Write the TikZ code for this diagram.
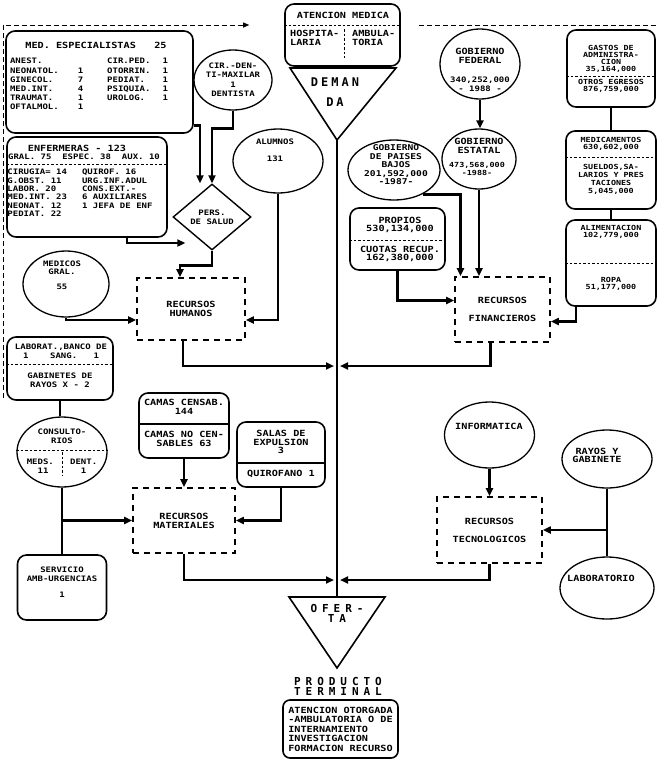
\documentclass[tikz,border=0pt]{standalone}
\usepackage{fontspec}
\newfontfamily\dotfont{DejaVu Sans Mono}[FakeStretch=1.2]
\newfontfamily\bigfont{DejaVu Sans Mono}
\usetikzlibrary{arrows.meta,shapes.geometric}

\tikzset{
  rbox/.style={draw, line width=1.6pt, rounded corners=9pt, inner sep=0pt},
  ebox/.style={draw, ellipse, line width=1.3pt, inner sep=0pt},
  dbox/.style={draw, line width=1.8pt, dash pattern=on 6pt off 5pt, inner sep=0pt,
    align=center, font=\dotfont\bfseries\fontsize{8.5}{8.8}\selectfont},
  dmnd/.style={draw, diamond, line width=1.4pt, inner sep=0pt},
  lbl/.style={font=\dotfont\bfseries\fontsize{8.5}{8.8}\selectfont, align=center, inner sep=0pt},
  lblsm/.style={font=\dotfont\bfseries\fontsize{7.5}{8.6}\selectfont, align=center, inner sep=0pt},
  lbltn/.style={font=\dotfont\bfseries\fontsize{7}{7.2}\selectfont, align=center, inner sep=0pt},
  tab/.style={inner sep=0pt},
  head/.style={font=\bigfont\bfseries\fontsize{12}{12}\selectfont\addfontfeatures{LetterSpace=25},
    align=center, inner sep=0pt},
  headsm/.style={font=\bigfont\bfseries\fontsize{11}{10}\selectfont\addfontfeatures{LetterSpace=45},
    align=center, inner sep=0pt},
  flow/.style={line width=2.8pt, -{Triangle[length=8pt,width=7pt]}},
  link/.style={line width=2.8pt},
  fback/.style={line width=0.9pt, dash pattern=on 5pt off 3pt},
  divider/.style={line width=1pt, dash pattern=on 2.5pt off 2pt},
  solidrule/.style={line width=1.2pt},
}

\begin{document}
\begin{tikzpicture}[x=1pt, y=-1pt]
  \useasboundingbox (0,0) rectangle (658,764);

  % demanda
  \path (342.5,35) node[rbox, minimum width=115pt, minimum height=62pt] (aten) {};
  \path (343,15)  node[lbl] (aten-a) {ATENCION MEDICA};
  \path (290,38)  node[lbl, anchor=west, align=left] (aten-b) {HOSPITA-\\LARIA};
  \path (352,38)  node[lbl, anchor=west, align=left] (aten-c) {AMBULA-\\TORIA};
  \draw[divider] (aten.west |- 0,25) -- (aten.east |- 0,25);
  \draw[divider] (344,29) -- (344,58);

  \coordinate (dem) at (337,140);
  \draw[line width=1.6pt] (290,68) -- (396,68) -- (dem) -- cycle;
  \path (335,92) node[head] (dem-a) {DEMAN\\[8pt]DA};

  \coordinate (fb) at (3,398);
  \draw[fback, -{Triangle[length=6pt,width=5pt]}] (fb) |- ([xshift=-35pt,yshift=10pt]aten.west);
  \draw[fback] ([xshift=18pt,yshift=10pt]aten.east) -- ++(237,0);

  % recursos humanos
  \path (99.5,82) node[rbox, minimum width=187pt, minimum height=102pt] (spec) {};
  \path (96,45) node[lbl] (spec-a) {MED. ESPECIALISTAS~~~25};
  \path (89,85) node[tab, font=\dotfont\bfseries\fontsize{7.5}{9.2}\selectfont] (spec-b) {%
    \begin{tabular}{@{}l@{\hspace{19pt}}r@{\hspace{24pt}}l@{\hspace{12pt}}r@{}}
      ANEST.    &   & CIR.PED. & 1\\
      NEONATOL. & 1 & OTORRIN. & 1\\
      GINECOL.  & 7 & PEDIAT.  & 1\\
      MED.INT.  & 4 & PSIQUIA. & 1\\
      TRAUMAT.  & 1 & UROLOG.  & 1\\
      OFTALMOL. & 1 &          &
    \end{tabular}};

  \path (87,187) node[rbox, minimum width=160pt, minimum height=100pt] (enf) {};
  \path (77,148) node[lbl] (enf-a) {ENFERMERAS - 123};
  \path (84,157) node[lblsm] (enf-b) {GRAL.~75~~ESPEC.~38~~AUX.~10};
  \draw[divider] (enf.west |- 0,164) -- (enf.east |- 0,164);
  \path (80,194) node[tab, font=\dotfont\bfseries\fontsize{7.5}{8.4}\selectfont] (enf-c) {%
    \begin{tabular}{@{}l@{\hspace{15pt}}l@{}}
      CIRUGIA=~14 & QUIROF.~16\\
      G.OBST.~11  & URG.INF.ADUL\\
      LABOR.~20   & CONS.EXT.-\\
      MED.INT.~23 & 6 AUXILIARES\\
      NEONAT.~12  & 1 JEFA DE ENF\\
      PEDIAT.~22  &
    \end{tabular}};

  \path (233,80) node[ebox, minimum width=78pt, minimum height=60pt, lblsm,
    font=\dotfont\bfseries\fontsize{7.5}{9.5}\selectfont] (dent) {CIR.-DEN-\\TI-MAXILAR\\1\\DENTISTA};
  \path (212,217) node[dmnd, minimum width=78pt, minimum height=66pt, lblsm] (pers) {PERS.\\DE SALUD};

  \path (66,284) node[ebox, minimum width=86pt, minimum height=66pt] (medg) {};
  \path (62,275) node[lblsm] (medg-a) {MEDICOS\\GRAL.\\[6pt]55};
  \path (278,161) node[ebox, minimum width=90pt, minimum height=64pt] (alum) {};
  \path (275,150) node[lblsm] (alum-a) {ALUMNOS\\[8pt]131};

  \path (191,309) node[dbox, minimum width=108pt, minimum height=62pt] (rh) {RECURSOS\\HUMANOS};

  \draw[flow] ([yshift=8pt]spec.south east) -| ([xshift=-12pt]pers.north);
  \draw[flow] (dent.south) -- ++(0,18) -| (pers.north);
  \draw[flow] ([xshift=40pt]enf.south) |- ([xshift=13pt,yshift=-26pt]pers.west);
  \draw[flow] (pers.south) -- ++(0,15) -| ([xshift=-11pt]rh.north);
  \draw[flow] (medg.south) |- ([yshift=-11pt]rh.west);
  \draw[flow] (alum.south) |- ([yshift=-11pt]rh.east);

  % recursos financieros
  \path (480,64) node[ebox, minimum width=80pt, minimum height=70pt] (gfed) {};
  \path (480,55.5) node[lbl] (gfed-a) {GOBIERNO\\FEDERAL};
  \path (480,84.5) node[lblsm] (gfed-b) {340,252,000\\- 1988 -};
  \path (479,159) node[ebox, minimum width=74pt, minimum height=60pt] (gest) {};
  \path (479,146) node[lbl] (gest-a) {GOBIERNO\\ESTATAL};
  \path (477,169) node[lbltn] (gest-b) {473,568,000\\-1988-};
  \path (394,170) node[ebox, minimum width=92pt, minimum height=60pt] (pb) {};
  \path (396,165) node[lbl, font=\dotfont\bfseries\fontsize{8}{8.5}\selectfont] (pb-a)
    {GOBIERNO\\DE PAISES\\BAJOS\\201,592,000\\-1987-};

  \path (397.5,239) node[rbox, minimum width=95pt, minimum height=62pt] (prop) {};
  \path (400,225) node[lbl] (prop-a) {PROPIOS\\530,134,000};
  \draw[divider] (prop.west |- 0,240) -- (prop.east |- 0,240);
  \path (400,254) node[lbl] (prop-b) {CUOTAS RECUP.\\162,380,000};

  \path (611,68.5) node[rbox, minimum width=88pt, minimum height=77pt] (gadm) {};
  \path (611,59) node[lbltn] (gadm-a) {GASTOS DE\\ADMINISTRA-\\CION\\35,164,000};
  \draw[divider] (gadm.west |- 0,76) -- (gadm.east |- 0,76);
  \path (611,86) node[lbltn] (gadm-b) {OTROS EGRESOS\\876,759,000};

  \path (611,170) node[rbox, minimum width=90pt, minimum height=78pt] (medi) {};
  \path (611,143.5) node[lbltn] (medi-a) {MEDICAMENTOS\\630,602,000};
  \draw[divider] (medi.west |- 0,157) -- (medi.east |- 0,157);
  \path (611,179) node[lbltn, font=\dotfont\bfseries\fontsize{7}{8}\selectfont] (medi-b)
    {SUELDOS,SA-\\LARIOS Y PRES\\TACIONES\\5,045,000};

  \path (611,263) node[rbox, minimum width=90pt, minimum height=86pt] (alim) {};
  \path (611,232) node[lbltn] (alim-a) {ALIMENTACION\\102,779,000};
  \draw[divider] (alim.west |- 0,263) -- (alim.east |- 0,263);
  \path (611,284) node[lbltn] (alim-b) {ROPA\\51,177,000};

  \path (502.5,309.5) node[dbox, minimum width=95pt, minimum height=65pt] (fin) {RECURSOS\\[9pt]FINANCIEROS};

  \draw[flow] (gfed) -- (gfed.south |- gest.north);
  \draw[flow] (gest.south) -- (gest.south |- fin.north);
  \draw[flow] (pb.-40) -| ([xshift=-42pt]fin.north);
  \draw[flow] (prop.south) |- ([yshift=9pt]fin.west);
  \draw[link] (gadm.south) -- (medi.north);
  \draw[link] (medi.south) -- (alim.north);
  \draw[flow] ([xshift=-35pt]alim.south) |- ([yshift=-12pt]fin.east);

  % recursos materiales
  \path (60,368.5) node[rbox, minimum width=106pt, minimum height=63pt] (labb) {};
  \path (61,351.5) node[lblsm] (labb-a) {LABORAT.,BANCO DE\\1~~~~SANG.~~~1};
  \draw[divider] (labb.west |- 0,364) -- (labb.east |- 0,364);
  \path (60,380) node[lblsm] (labb-b) {GABINETES DE\\RAYOS X - 2};

  \path (62,452) node[ebox, minimum width=90pt, minimum height=70pt] (cons) {};
  \path (62,436.5) node[lblsm] (cons-a) {CONSULTO-\\RIOS};
  \draw[divider] ([yshift=2pt]cons.west) -- ([yshift=2pt]cons.east);
  \draw[divider] (62,452) -- (62,476);
  \path (62,466) node[lblsm] (cons-b) {MEDS.~~~DENT.\\11~~~~~~1};

  \path (62,587.5) node[rbox, minimum width=89pt, minimum height=65pt] (serv) {};
  \path (62,582.5) node[lblsm] (serv-a) {SERVICIO\\AMB-URGENCIAS\\[8pt]1};

  \path (184,425.5) node[rbox, minimum width=90pt, minimum height=65pt] (cam) {};
  \path (184,407) node[lbl] (cam-a) {CAMAS CENSAB.\\144};
  \draw[solidrule] (cam.west |- 0,424) -- (cam.east |- 0,424);
  \path (184,439) node[lbl] (cam-b) {CAMAS NO CEN-\\SABLES 63};

  \path (281,454.5) node[rbox, minimum width=88pt, minimum height=65pt] (sal) {};
  \path (281,442) node[lbl] (sal-a) {SALAS DE\\EXPULSION\\3};
  \draw[solidrule] (sal.west |- 0,463) -- (sal.east |- 0,463);
  \path (281,474) node[lbl] (sal-b) {QUIROFANO 1};

  \path (184,520.5) node[dbox, minimum width=102pt, minimum height=65pt] (rm) {RECURSOS\\MATERIALES};

  \draw[link] (labb.south) -- (labb.south |- cons.north);
  \draw[link] (cons.south) -- (serv.north);
  \draw[flow] (cons.south) |- (rm.west);
  \draw[flow] (cam.south) -- (rm.north);
  \draw[flow] (sal.south) |- (rm.east);

  % recursos tecnologicos
  \path (489.5,435) node[ebox, minimum width=90pt, minimum height=66pt] (inf) {};
  \path (489,426) node[lbl] (inf-a) {INFORMATICA};
  \path (607,459) node[ebox, minimum width=90pt, minimum height=58pt] (ray) {};
  \path (597,455.5) node[lbl, font=\dotfont\bfseries\fontsize{8.5}{8}\selectfont] (ray-a) {RAYOS Y\\GABINETE};
  \path (607,588) node[ebox, minimum width=94pt, minimum height=62pt] (lab) {};
  \path (601,578) node[lbl] (lab-a) {LABORATORIO};

  \path (489.5,530) node[dbox, minimum width=105pt, minimum height=66pt] (tec) {RECURSOS\\[9pt]TECNOLOGICOS};

  \draw[flow] (inf.south) -- (tec.north);
  \draw[link] (ray.south) -- (lab.north);
  \draw[flow] (ray.south) |- (tec.east);

  % oferta
  \coordinate (ofe) at (337,597);
  \coordinate (jhum) at (337,366);
  \coordinate (jmat) at (337,580);
  \draw[line width=2.4pt] (dem) -- (ofe);
  \draw[line width=1.6pt] (289,597) -- (385,597) -- (337,668) -- cycle;
  \path (337,613) node[headsm] (ofe-a) {OFER-\\TA};

  \draw[flow] ([xshift=-8pt]rh.south) |- ([xshift=-3pt]jhum);
  \draw[flow] ([xshift=-12pt]fin.south) |- ([xshift=3pt]jhum);
  \draw[flow] (rm.south) |- ([xshift=-3pt]jmat);
  \draw[flow] (tec.south) |- ([xshift=3pt]jmat);

  \path (338,686) node[headsm] (prod-a) {PRODUCTO\\TERMINAL};
  \path (340.5,729) node[rbox, rounded corners=7pt, minimum width=115pt, minimum height=58pt, lbl,
    align=left, font=\dotfont\bfseries\fontsize{8.5}{9.5}\selectfont] (prod)
    {ATENCION OTORGADA\\-AMBULATORIA O DE\\INTERNAMIENTO\\INVESTIGACION\\FORMACION RECURSO};
\end{tikzpicture}
\end{document}
